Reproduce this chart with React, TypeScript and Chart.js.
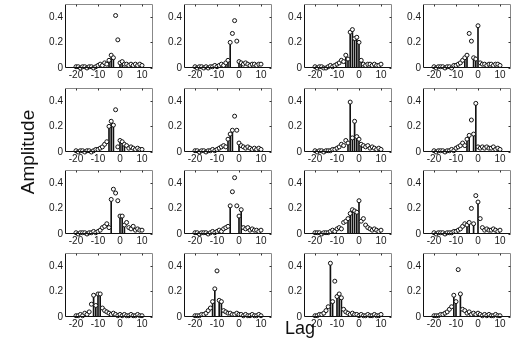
import React, { useEffect, useRef } from "react";
import { Chart, registerables } from "chart.js";
Chart.register(...registerables);

// Lag axis (categories)
const LAGS = [-20, -19, -18, -17, -16, -15, -14, -13, -12, -11, -10, -9, -8, -7, -6, -5, -4, -3, -2, -1, 0, 1, 2, 3, 4, 5, 6, 7, 8, 9, 10];
const X_TICKS = [-20, -10, 0, 10];
const Y_TICKS = [0, 0.2, 0.4];

// Amplitudes per panel (lags -20..10) and lags that show a stem
const amp11 = [0.01,0.01,0.00,0.01,0.01,0.00,0.01,0.01,0.00,0.01,0.02, 0.03,0.02,0.04,0.03,0.06, 0.10,0.08,0.41,0.22,0.04, 0.05,0.03,0.03,0.02,0.03,0.02,0.03,0.02,0.03,0.02];
const stem11 = [-5, -4, -3, 0, 1];
const amp12 = [0.01,0.00,0.01,0.01,0.00,0.01,0.00,0.01,0.01,0.02,0.01, 0.02,0.03,0.02,0.04,0.06, 0.20,0.27,0.37,0.21,0.05, 0.04,0.03,0.04,0.03,0.02,0.03,0.03,0.02,0.03,0.03];
const stem12 = [-6, -5, -4, 0, 1];
const amp13 = [0.01,0.00,0.01,0.01,0.00,0.00,0.01,0.02,0.01,0.02,0.03, 0.04,0.06,0.05,0.10,0.07, 0.28,0.30,0.23,0.24,0.20, 0.06,0.03,0.02,0.03,0.03,0.02,0.03,0.02,0.02,0.03];
const stem13 = [-6, -5, -4, -3, -2, -1, 0, 1];
const amp14 = [0.01,0.00,0.01,0.01,0.01,0.00,0.01,0.01,0.00,0.02,0.02, 0.03,0.04,0.06,0.08,0.10, 0.27,0.21,0.08,0.07,0.33, 0.04,0.03,0.03,0.02,0.03,0.03,0.02,0.03,0.03,0.02];
const stem14 = [-6, -5, -2, -1, 0];

const amp21 = [0.01,0.00,0.01,0.01,0.00,0.01,0.01,0.00,0.01,0.02,0.02, 0.03,0.04,0.06,0.08,0.20, 0.24,0.21,0.33,0.04,0.09, 0.08,0.06,0.05,0.03,0.04,0.03,0.02,0.03,0.02,0.02];
const stem21 = [-5, -4, -3, 0, 1, 2];
const amp22 = [0.01,0.01,0.00,0.01,0.01,0.00,0.01,0.01,0.02,0.01,0.02, 0.03,0.04,0.05,0.04,0.10, 0.14,0.17,0.28,0.17,0.07, 0.05,0.04,0.03,0.04,0.03,0.02,0.03,0.02,0.03,0.02];
const stem22 = [-5, -4, -3, 0];
const amp23 = [0.01,0.00,0.01,0.01,0.00,0.01,0.01,0.01,0.02,0.02,0.03, 0.04,0.06,0.05,0.09,0.07, 0.39,0.11,0.24,0.12,0.10, 0.06,0.05,0.04,0.05,0.03,0.04,0.03,0.02,0.03,0.02];
const stem23 = [-5, -4, -3, -2, -1, 0, 1];
const amp24 = [0.01,0.00,0.01,0.01,0.01,0.00,0.01,0.01,0.02,0.01,0.03, 0.04,0.05,0.07,0.05,0.10, 0.13,0.25,0.14,0.38,0.04, 0.03,0.04,0.03,0.04,0.03,0.03,0.04,0.02,0.03,0.02];
const stem24 = [-5, -4, -2, -1];

const amp31 = [0.01,0.00,0.01,0.01,0.01,0.00,0.01,0.01,0.02,0.01,0.02, 0.03,0.05,0.06,0.08,0.05, 0.27,0.35,0.32,0.26,0.14, 0.14,0.07,0.09,0.05,0.04,0.06,0.03,0.04,0.03,0.03];
const stem31 = [-4, 0, 1, 2];
const amp32 = [0.01,0.01,0.00,0.01,0.01,0.01,0.00,0.01,0.02,0.01,0.02, 0.03,0.02,0.04,0.05,0.06, 0.22,0.33,0.44,0.22,0.14, 0.19,0.05,0.04,0.05,0.03,0.04,0.03,0.03,0.02,0.03];
const stem32 = [-4, 0, 1];
const amp33 = [0.01,0.01,0.01,0.00,0.01,0.01,0.01,0.02,0.03,0.02,0.04, 0.05,0.04,0.09,0.10,0.12, 0.16,0.19,0.18,0.17,0.26, 0.10,0.12,0.07,0.05,0.04,0.03,0.04,0.03,0.02,0.03];
const stem33 = [-5, -4, -3, -2, -1, 0];
const amp34 = [0.01,0.00,0.01,0.01,0.01,0.00,0.01,0.01,0.01,0.02,0.02, 0.03,0.04,0.06,0.08,0.07, 0.09,0.20,0.08,0.30,0.25, 0.12,0.05,0.03,0.04,0.03,0.03,0.04,0.03,0.02,0.03];
const stem34 = [-5, -4, -2, 0];

const amp41 = [0.01,0.01,0.02,0.01,0.03,0.02,0.04,0.10,0.17,0.09,0.18, 0.18,0.07,0.05,0.04,0.03, 0.02,0.03,0.02,0.01,0.02, 0.01,0.02,0.01,0.01,0.02,0.01,0.01,0.02,0.01,0.01];
const stem41 = [-12, -11, -10, -9];
const amp42 = [0.01,0.01,0.01,0.02,0.02,0.03,0.05,0.07,0.12,0.22,0.36, 0.13,0.12,0.05,0.04,0.03, 0.03,0.02,0.02,0.03,0.02, 0.02,0.01,0.02,0.01,0.01,0.02,0.01,0.01,0.02,0.01];
const stem42 = [-12, -11, -9, -8];
const amp43 = [0.01,0.01,0.02,0.02,0.03,0.05,0.08,0.42,0.12,0.28,0.16, 0.18,0.15,0.06,0.04,0.03, 0.02,0.03,0.02,0.02,0.01, 0.02,0.01,0.01,0.02,0.01,0.01,0.02,0.01,0.01,0.02];
const stem43 = [-13, -12, -10, -9, -8];
const amp44 = [0.01,0.01,0.01,0.02,0.02,0.03,0.04,0.06,0.08,0.17,0.12, 0.37,0.18,0.06,0.05,0.03, 0.04,0.02,0.03,0.02,0.03, 0.02,0.01,0.02,0.01,0.02,0.01,0.01,0.02,0.01,0.01];
const stem44 = [-11, -10, -8];

const PANEL_AMPS = [amp11, amp12, amp13, amp14, amp21, amp22, amp23, amp24, amp31, amp32, amp33, amp34, amp41, amp42, amp43, amp44];
const PANEL_STEMS = [stem11, stem12, stem13, stem14, stem21, stem22, stem23, stem24, stem31, stem32, stem33, stem34, stem41, stem42, stem43, stem44];

// Layout
const COL_LEFT = [65, 184, 304, 423];
const ROW_BOTTOM = [68, 152, 234, 317];
const PW = 88;
const PH = 66;
const YW = 24;
const XH = 14;
const PT = 6;
const PR = 8;
const FONT = "'Liberation Sans', Arial, sans-serif";

const boxPlugin = {
  id: "box",
  afterDatasetsDraw(chart: any) {
    const { ctx, chartArea: a, scales } = chart;
    const l = Math.round(a.left) + 0.5;
    const r = Math.round(a.right) - 0.5;
    const t = Math.round(a.top) + 0.5;
    const b = Math.round(a.bottom) - 0.5;
    ctx.save();
    ctx.lineWidth = 1;
    ctx.strokeStyle = "#111";
    ctx.beginPath();
    ctx.moveTo(l, t);
    ctx.lineTo(l, b);
    ctx.lineTo(r, b);
    ctx.stroke();
    ctx.strokeStyle = "#888";
    ctx.beginPath();
    ctx.moveTo(l, t);
    ctx.lineTo(r, t);
    ctx.lineTo(r, b);
    ctx.stroke();
    ctx.strokeStyle = "#333";
    ctx.beginPath();
    for (const v of X_TICKS) {
      const x = Math.round(scales.x.getPixelForValue(v)) + 0.5;
      ctx.moveTo(x, t);
      ctx.lineTo(x, t + 2);
    }
    for (const v of Y_TICKS) {
      const y = Math.round(scales.y.getPixelForValue(v)) + 0.5;
      ctx.moveTo(r, y);
      ctx.lineTo(r - 2, y);
    }
    ctx.stroke();
    ctx.restore();
  },
};

function Panel({ amps, stems, left, bottom }: { amps: number[]; stems: number[]; left: number; bottom: number }) {
  const ref = useRef<HTMLCanvasElement | null>(null);
  useEffect(() => {
    const circles = LAGS.map((l, i) => ({ x: l, y: amps[i] }));
    const stemData = LAGS.map((l, i) => ({ x: l, y: amps[i] })).filter((p) => stems.includes(p.x));
    const chart = new Chart(ref.current as HTMLCanvasElement, {
      type: "scatter",
      data: {
        datasets: [
          {
            type: "scatter",
            data: circles,
            pointRadius: 2,
            pointHoverRadius: 2,
            pointBackgroundColor: "#fff",
            pointBorderColor: "#111",
            pointBorderWidth: 1,
            order: 0,
            clip: false,
          } as any,
          {
            type: "bar",
            data: stemData,
            backgroundColor: "#111",
            barThickness: 1,
            borderWidth: 0,
            order: 1,
          } as any,
        ],
      },
      options: {
        responsive: false,
        animation: false,
        devicePixelRatio: 1,
        layout: { padding: { top: PT, right: PR, left: 0, bottom: 0 } },
        plugins: { legend: { display: false }, tooltip: { enabled: false } },
        scales: {
          x: {
            type: "linear",
            min: -20,
            max: 10,
            grid: { display: false, drawTicks: false },
            border: { display: false },
            afterBuildTicks: (s: any) => {
              s.ticks = X_TICKS.map((v) => ({ value: v }));
            },
            afterFit: (s: any) => {
              s.height = XH;
            },
            ticks: {
              autoSkip: false,
              maxRotation: 0,
              minRotation: 0,
              padding: 1,
              color: "#1a1a1a",
              font: { family: FONT, size: 10 },
              callback: (v: any) => String(v),
            },
          },
          y: {
            type: "linear",
            min: 0,
            max: 0.5,
            grid: { display: false, drawTicks: false },
            border: { display: false },
            afterBuildTicks: (s: any) => {
              s.ticks = Y_TICKS.map((v) => ({ value: v }));
            },
            afterFit: (s: any) => {
              s.width = YW;
            },
            ticks: {
              padding: 2,
              color: "#1a1a1a",
              font: { family: FONT, size: 10 },
              callback: (v: any) => String(v),
            },
          },
        },
      } as any,
      plugins: [boxPlugin],
    });
    return () => chart.destroy();
  }, [amps, stems]);
  const w = YW + PW + PR;
  const h = PT + PH + XH;
  return (
    <canvas
      ref={ref}
      width={w}
      height={h}
      style={{ position: "absolute", left: left - YW, top: bottom - PH - PT, width: w, height: h }}
    />
  );
}

export default function App() {
  return (
    <div style={{ position: "fixed", left: 0, top: 0, width: 524, height: 345, overflow: "hidden", background: "#fff" }}>
      {PANEL_AMPS.map((amps, i) => (
        <Panel key={i} amps={amps} stems={PANEL_STEMS[i]} left={COL_LEFT[i % 4]} bottom={ROW_BOTTOM[Math.floor(i / 4)]} />
      ))}
      <div
        style={{
          position: "absolute",
          left: 28,
          top: 152,
          transform: "translate(-50%, -50%) rotate(-90deg)",
          fontFamily: FONT,
          fontSize: 19,
          color: "#111",
          whiteSpace: "nowrap",
        }}
      >
        Amplitude
      </div>
      <div
        style={{
          position: "absolute",
          left: 300,
          top: 328,
          transform: "translate(-50%, -50%)",
          fontFamily: FONT,
          fontSize: 18,
          color: "#111",
          whiteSpace: "nowrap",
        }}
      >
        Lag
      </div>
    </div>
  );
}
